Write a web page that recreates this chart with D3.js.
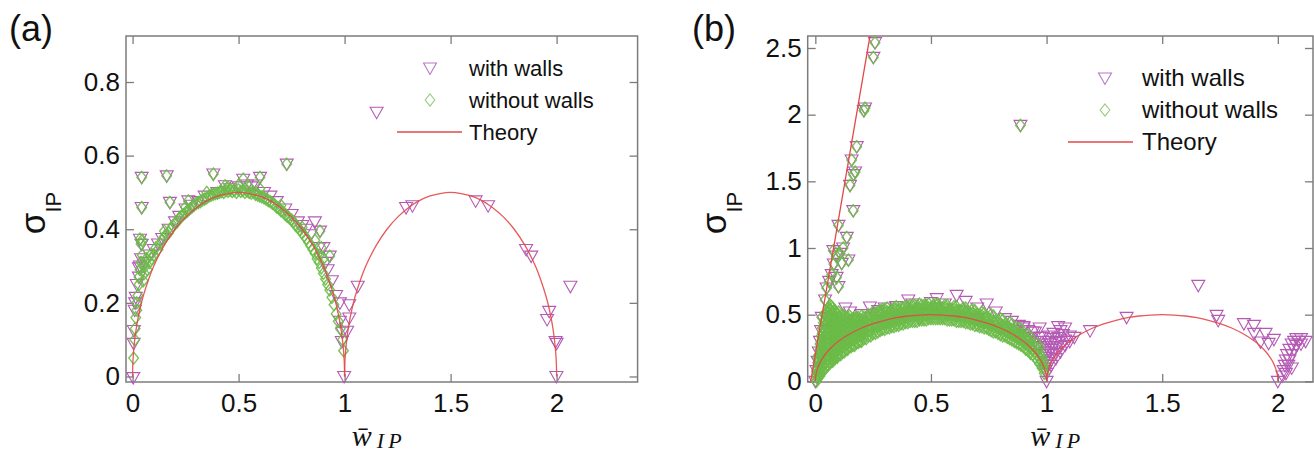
<!DOCTYPE html>
<html>
<head>
<meta charset="utf-8">
<script src="https://cdn.jsdelivr.net/npm/d3@7"></script>
<style>
  body { margin: 0; background: #fff; }
  svg { display: block; }
  text { font-family: "Liberation Sans", Arial, sans-serif; fill: #111; }
</style>
</head>
<body>
<svg id="chart" width="1314" height="455"></svg>
<script>
// ---------- data ----------
// tick values and labels
const xTicks = [0, 0.5, 1, 1.5, 2];
const xTickLabels = ["0", "0.5", "1", "1.5", "2"];
const yTicksA = [0, 0.2, 0.4, 0.6, 0.8];
const yTickLabelsA = ["0", "0.2", "0.4", "0.6", "0.8"];
const yTicksB = [0, 0.5, 1, 1.5, 2, 2.5];
const yTickLabelsB = ["0", "0.5", "1", "1.5", "2", "2.5"];

// theory: two arcs (same shape on [0,1] and [1,2]) and a steep branch in (b)
const theoryW1 = [0,0.001,0.003,0.006,0.01,0.02,0.035,0.05,0.075,0.1,0.15,0.2,0.25,0.3,0.35,0.4,0.45,0.5,0.55,0.6,0.65,0.7,0.75,0.8,0.85,0.9,0.925,0.95,0.965,0.98,0.99,0.994,0.997,0.999,1];
const theoryW2 = [1,1.001,1.003,1.006,1.01,1.02,1.035,1.05,1.075,1.1,1.15,1.2,1.25,1.3,1.35,1.4,1.45,1.5,1.55,1.6,1.65,1.7,1.75,1.8,1.85,1.9,1.925,1.95,1.965,1.98,1.99,1.994,1.997,1.999,2];
const theoryS = [0,0.032,0.055,0.077,0.099,0.14,0.184,0.218,0.263,0.3,0.357,0.4,0.433,0.458,0.477,0.49,0.497,0.5,0.497,0.49,0.477,0.458,0.433,0.4,0.357,0.3,0.263,0.218,0.184,0.14,0.099,0.077,0.055,0.032,0];
const steepW = [-0.02, 0.26];
const steepS = [0, 2.83];

// panel (a): without walls
const noWallsA = [
  [0.005,0.05],[0.01,0.1],[0.012,0.13],[0.015,0.16],[0.02,0.18],[0.02,0.2],[0.025,0.22],[0.03,0.25],[0.03,0.27],
  [0.035,0.29],[0.04,0.31],[0.045,0.33],[0.05,0.3],[0.05,0.26],[0.055,0.28],[0.06,0.3],[0.065,0.32],[0.07,0.29],
  [0.08,0.31],[0.085,0.33],[0.09,0.32],[0.1,0.33],[0.11,0.35],[0.12,0.345],[0.13,0.36],[0.14,0.37],[0.15,0.38],
  [0.16,0.385],[0.17,0.39],[0.18,0.4],[0.19,0.41],[0.2,0.415],[0.21,0.42],[0.22,0.43],[0.23,0.435],[0.24,0.44],
  [0.25,0.445],[0.26,0.45],[0.27,0.455],[0.28,0.46],[0.29,0.465],[0.3,0.47],[0.31,0.472],[0.32,0.475],[0.33,0.48],
  [0.34,0.482],[0.35,0.485],[0.36,0.49],[0.37,0.492],[0.38,0.495],[0.39,0.497],[0.4,0.498],[0.41,0.5],[0.42,0.502],
  [0.43,0.5],[0.44,0.505],[0.45,0.503],[0.46,0.506],[0.47,0.502],[0.48,0.505],[0.49,0.5],[0.5,0.507],[0.51,0.503],
  [0.52,0.505],[0.53,0.5],[0.54,0.504],[0.55,0.5],[0.56,0.498],[0.57,0.5],[0.58,0.495],[0.59,0.493],[0.6,0.49],
  [0.61,0.488],[0.62,0.485],[0.63,0.482],[0.64,0.478],[0.65,0.475],[0.66,0.47],[0.67,0.467],[0.68,0.46],[0.69,0.457],
  [0.7,0.45],[0.71,0.447],[0.72,0.44],[0.73,0.435],[0.74,0.43],[0.75,0.425],[0.76,0.42],[0.77,0.41],[0.78,0.405],
  [0.79,0.398],[0.8,0.39],[0.81,0.382],[0.82,0.375],[0.83,0.365],[0.84,0.355],[0.85,0.345],[0.86,0.335],[0.87,0.32],
  [0.88,0.31],[0.89,0.295],[0.9,0.28],[0.91,0.265],[0.92,0.25],[0.93,0.235],[0.94,0.215],[0.95,0.195],[0.96,0.17],
  [0.97,0.15],[0.98,0.13],[0.99,0.1],[0.995,0.07],
  [0.5,0.52],[0.45,0.515],[0.55,0.515],[0.6,0.51],[0.35,0.5],[0.25,0.46],[0.15,0.395],[0.7,0.465],[0.8,0.405],
  [0.88,0.33],[0.04,0.36],[0.045,0.37],[0.86,0.37],[0.89,0.35],[0.9,0.32],
  [0.043,0.541],[0.161,0.545],[0.381,0.55],[0.727,0.577],[0.043,0.459],[0.176,0.473],[0.522,0.536],[0.601,0.541],
  [0.436,0.518],[0.263,0.477],[0.035,0.373],[0.884,0.395],[0.93,0.327]
];

// panel (a): with walls
const wallsA = [
  [0.003,-0.003],[0.005,0.09],[0.006,0.125],[0.01,0.18],[0.012,0.2],[0.015,0.215],[0.02,0.25],[0.03,0.27],
  [0.035,0.3],[0.04,0.32],[0.03,0.295],[0.035,0.373],[0.043,0.359],[0.043,0.459],[0.043,0.541],[0.06,0.31],
  [0.08,0.33],[0.1,0.345],[0.12,0.36],[0.14,0.375],[0.161,0.545],[0.176,0.473],[0.17,0.4],[0.2,0.42],[0.22,0.435],
  [0.25,0.455],[0.263,0.477],[0.28,0.465],[0.31,0.475],[0.34,0.49],[0.381,0.55],[0.4,0.5],[0.436,0.518],[0.46,0.51],
  [0.5,0.515],[0.522,0.536],[0.54,0.52],[0.56,0.515],[0.58,0.52],[0.601,0.541],[0.62,0.5],[0.65,0.49],[0.68,0.475],
  [0.727,0.577],[0.72,0.455],[0.75,0.44],[0.78,0.42],[0.8,0.41],[0.82,0.4],[0.86,0.42],[0.884,0.395],[0.9,0.35],
  [0.93,0.327],[0.84,0.385],[0.88,0.35],[0.91,0.31],[0.92,0.29],[0.94,0.26],[0.96,0.22],[0.978,0.2],[0.978,0.15],
  [0.987,0.095],[0.99,0.12],[0.998,0.0],[1.012,0.123],[1.022,0.159],[1.022,0.195],[1.062,0.245],
  [1.151,0.718],[1.29,0.459],[1.32,0.464],[1.618,0.477],[1.677,0.464],[1.856,0.345],[1.88,0.327],[1.955,0.155],
  [1.965,0.177],[1.995,0.095],[2.0,0.09],[1.999,0.0],[2.065,0.245]
];

// panel (b): without walls — dense columns (w, list of sigma) plus scattered points
const noWallsColumnsB = [
  [0.005,[0.0,0.04,0.08]],
  [0.01,[0.02,0.06,0.1,0.14,0.18]],
  [0.015,[0.04,0.08,0.12,0.16,0.2]],
  [0.02,[0.04,0.08,0.12,0.16,0.2,0.24,0.28]],
  [0.025,[0.06,0.1,0.14,0.18,0.22,0.26,0.3,0.34]],
  [0.03,[0.08,0.12,0.16,0.2,0.24,0.28,0.32,0.36,0.4]],
  [0.035,[0.08,0.12,0.16,0.2,0.24,0.28,0.32,0.36,0.4,0.44]],
  [0.04,[0.1,0.14,0.18,0.22,0.26,0.3,0.34,0.38,0.42,0.46,0.5]],
  [0.045,[0.1,0.14,0.18,0.22,0.26,0.3,0.34,0.38,0.42,0.46,0.5]],
  [0.05,[0.12,0.16,0.2,0.24,0.28,0.32,0.36,0.4,0.44,0.48,0.52]],
  [0.055,[0.12,0.16,0.2,0.24,0.28,0.32,0.36,0.4,0.44,0.48,0.52,0.55]],
  [0.06,[0.14,0.18,0.22,0.26,0.3,0.34,0.38,0.42,0.46,0.5,0.54]],
  [0.065,[0.14,0.18,0.22,0.26,0.3,0.34,0.38,0.42,0.46,0.5,0.54,0.57]],
  [0.07,[0.16,0.2,0.24,0.28,0.32,0.36,0.4,0.44,0.48,0.52,0.56]],
  [0.075,[0.15,0.19,0.23,0.27,0.31,0.35,0.39,0.43,0.47,0.51,0.55]],
  [0.08,[0.17,0.21,0.25,0.29,0.33,0.37,0.41,0.45,0.49,0.53]],
  [0.085,[0.17,0.21,0.25,0.29,0.33,0.37,0.41,0.45,0.49,0.53]],
  [0.09,[0.19,0.23,0.27,0.31,0.35,0.39,0.43,0.47,0.51]],
  [0.095,[0.18,0.22,0.26,0.3,0.34,0.38,0.42,0.46,0.5]],
  [0.1,[0.2,0.24,0.28,0.32,0.36,0.4,0.44,0.48,0.52]],
  [0.11,[0.2,0.24,0.28,0.32,0.36,0.4,0.44,0.48]],
  [0.118,[0.22,0.26,0.3,0.34,0.38,0.42,0.46,0.5]],
  [0.125,[0.22,0.26,0.3,0.34,0.38,0.42,0.46,0.49]],
  [0.133,[0.24,0.28,0.32,0.36,0.4,0.44,0.48]],
  [0.14,[0.24,0.28,0.32,0.36,0.4,0.44,0.48]],
  [0.148,[0.26,0.3,0.34,0.38,0.42,0.46,0.49]],
  [0.155,[0.26,0.3,0.34,0.38,0.42,0.46]],
  [0.163,[0.27,0.31,0.35,0.39,0.43,0.47]],
  [0.17,[0.27,0.31,0.35,0.39,0.43,0.47]],
  [0.178,[0.29,0.33,0.37,0.41,0.45,0.48]],
  [0.185,[0.29,0.33,0.37,0.41,0.45,0.48]],
  [0.193,[0.3,0.34,0.38,0.42,0.46]],
  [0.2,[0.3,0.34,0.38,0.42,0.46,0.49]],
  [0.21,[0.32,0.36,0.4,0.44,0.48]],
  [0.22,[0.32,0.36,0.4,0.44,0.48]],
  [0.23,[0.34,0.38,0.42,0.46,0.5]],
  [0.24,[0.34,0.38,0.42,0.46,0.5]],
  [0.25,[0.36,0.4,0.44,0.48,0.52]],
  [0.26,[0.36,0.4,0.44,0.48,0.51]],
  [0.27,[0.37,0.41,0.45,0.49,0.52]],
  [0.28,[0.38,0.42,0.46,0.5,0.53]],
  [0.29,[0.39,0.43,0.47,0.51,0.54]],
  [0.3,[0.39,0.43,0.47,0.51,0.54]],
  [0.31,[0.4,0.44,0.48,0.52,0.55]],
  [0.32,[0.4,0.44,0.48,0.52]],
  [0.33,[0.41,0.45,0.49,0.53]],
  [0.34,[0.41,0.45,0.49,0.53,0.55]],
  [0.35,[0.42,0.46,0.5,0.54,0.56]],
  [0.36,[0.42,0.46,0.5,0.54]],
  [0.37,[0.43,0.47,0.51,0.55]],
  [0.38,[0.43,0.47,0.51,0.55]],
  [0.39,[0.44,0.48,0.52,0.56]],
  [0.4,[0.44,0.48,0.52,0.56]],
  [0.41,[0.45,0.49,0.53,0.57]],
  [0.42,[0.45,0.49,0.53,0.57]],
  [0.43,[0.45,0.49,0.53,0.57]],
  [0.44,[0.45,0.49,0.53,0.56]],
  [0.45,[0.46,0.5,0.54,0.58]],
  [0.46,[0.46,0.5,0.54,0.57]],
  [0.47,[0.46,0.5,0.54,0.57]],
  [0.48,[0.46,0.5,0.54,0.57]],
  [0.49,[0.47,0.51,0.55,0.58]],
  [0.5,[0.47,0.51,0.55]],
  [0.51,[0.47,0.51,0.55,0.57]],
  [0.52,[0.47,0.51,0.55,0.58]],
  [0.53,[0.47,0.51,0.55,0.58]],
  [0.54,[0.47,0.51,0.55]],
  [0.55,[0.47,0.51,0.55]],
  [0.56,[0.47,0.51,0.55,0.57]],
  [0.57,[0.46,0.5,0.54,0.57]],
  [0.58,[0.46,0.5,0.54]],
  [0.59,[0.46,0.5,0.54]],
  [0.6,[0.46,0.5,0.54,0.56]],
  [0.61,[0.45,0.49,0.53,0.56]],
  [0.62,[0.45,0.49,0.53]],
  [0.63,[0.45,0.49,0.53]],
  [0.64,[0.45,0.49,0.53,0.55]],
  [0.65,[0.44,0.48,0.52,0.55]],
  [0.66,[0.44,0.48,0.52]],
  [0.67,[0.43,0.47,0.51]],
  [0.68,[0.43,0.47,0.51,0.54]],
  [0.69,[0.42,0.46,0.5,0.53]],
  [0.7,[0.42,0.46,0.5]],
  [0.71,[0.41,0.45,0.49]],
  [0.72,[0.41,0.45,0.49,0.52]],
  [0.73,[0.4,0.44,0.48,0.51]],
  [0.74,[0.4,0.44,0.48]],
  [0.75,[0.39,0.43,0.47]],
  [0.76,[0.38,0.42,0.46,0.5]],
  [0.77,[0.37,0.41,0.45,0.49]],
  [0.78,[0.37,0.41,0.45]],
  [0.79,[0.36,0.4,0.44]],
  [0.8,[0.35,0.39,0.43,0.47]],
  [0.81,[0.34,0.38,0.42,0.46]],
  [0.82,[0.34,0.38,0.42]],
  [0.83,[0.33,0.37,0.41]],
  [0.84,[0.32,0.36,0.4,0.44]],
  [0.85,[0.31,0.35,0.39,0.43]],
  [0.86,[0.3,0.34,0.38]],
  [0.87,[0.29,0.33,0.37]],
  [0.88,[0.28,0.32,0.36,0.4]],
  [0.89,[0.27,0.31,0.35,0.39]],
  [0.9,[0.26,0.3,0.34]],
  [0.91,[0.24,0.28,0.32]],
  [0.92,[0.23,0.27,0.31,0.35]],
  [0.93,[0.21,0.25,0.29,0.33]],
  [0.94,[0.2,0.24,0.28]],
  [0.95,[0.18,0.22,0.26]],
  [0.96,[0.16,0.2,0.24,0.28]],
  [0.97,[0.13,0.17,0.21,0.25]],
  [0.98,[0.1,0.14,0.18]],
  [0.99,[0.06,0.1,0.14]]
];
const noWallsExtraB = [
  [0.028,0.48],[0.042,0.61],[0.049,0.7],[0.06,0.75],[0.071,0.8],[0.092,0.78],[0.1,0.71],[0.078,0.98],
  [0.08,0.88],[0.09,0.94],[0.107,0.96],[0.114,0.885],[0.143,0.91],[0.12,1.0],[0.136,1.08],[0.1,1.17],
  [0.164,1.28],[0.15,1.47],[0.165,1.55],[0.172,1.57],[0.157,1.66],[0.179,1.76],[0.21,2.03],[0.215,2.05],
  [0.251,2.43],[0.258,2.54],[0.887,1.92]
];

// panel (b): with walls
const wallsB = [
  // steep branch
  [0.0,0.0],[0.005,0.08],[0.01,0.15],[0.015,0.22],[0.02,0.3],[0.025,0.38],
  [0.028,0.48],[0.042,0.61],[0.049,0.7],[0.06,0.75],[0.071,0.8],[0.092,0.78],[0.1,0.71],[0.078,0.98],
  [0.08,0.88],[0.09,0.94],[0.107,0.96],[0.114,0.885],[0.143,0.91],[0.12,1.0],[0.136,1.08],[0.1,1.17],
  [0.164,1.28],[0.15,1.47],[0.165,1.55],[0.172,1.57],[0.157,1.66],[0.179,1.76],[0.21,2.03],[0.215,2.05],
  [0.251,2.43],[0.258,2.54],[0.887,1.92],
  // upper edge of the hump
  [0.13,0.55],[0.15,0.52],[0.2,0.5],[0.236,0.557],[0.272,0.53],[0.3,0.55],[0.35,0.56],[0.402,0.61],[0.42,0.58],
  [0.467,0.51],[0.5,0.59],[0.525,0.62],[0.56,0.58],[0.611,0.645],[0.65,0.6],[0.7,0.55],[0.741,0.58],[0.78,0.52],
  [0.82,0.47],[0.85,0.45],[0.88,0.42],[0.9,0.4],[0.92,0.38],[0.95,0.37],[0.97,0.33],[0.99,0.28],[0.96,0.25],
  [0.98,0.2],[0.89,0.33],[0.93,0.3],[0.55,0.49],[0.45,0.47],[0.62,0.52],[0.7,0.47],
  [0.86,0.38],[0.88,0.35],[0.9,0.41],[0.92,0.33],[0.94,0.37],[0.95,0.3],[0.97,0.4],[0.97,0.26],[0.98,0.33],
  [0.99,0.22],[0.99,0.15],[0.995,0.08],
  // cluster just above w = 1
  [1.0,0.0],[1.0,0.06],[1.0,0.1],[1.0,0.14],[1.0,0.18],[1.0,0.22],[1.0,0.26],[1.01,0.3],[1.01,0.34],[1.02,0.12],
  [1.02,0.16],[1.02,0.2],[1.02,0.24],[1.02,0.28],[1.03,0.32],[1.03,0.36],[1.04,0.17],[1.04,0.21],[1.04,0.25],
  [1.04,0.29],[1.05,0.33],[1.06,0.22],[1.06,0.26],[1.06,0.3],[1.07,0.35],[1.08,0.27],[1.08,0.31],[1.1,0.3],
  [1.1,0.34],[1.12,0.33],[1.06,0.38],[1.08,0.4],[1.05,0.41],
  // second arc
  [1.188,0.38],[1.346,0.48],[1.656,0.72],[1.735,0.495],[1.742,0.457],[1.853,0.433],[1.897,0.42],[1.897,0.36],
  [1.947,0.36],[1.925,0.295],[1.983,0.315],[1.96,0.285],[2.0,0.0],
  // cluster just above w = 2
  [2.02,0.04],[2.025,0.08],[2.03,0.12],[2.035,0.16],[2.04,0.2],[2.05,0.24],[2.06,0.28],[2.07,0.3],[2.08,0.32],
  [2.1,0.32],[2.045,0.12],[2.05,0.16],[2.06,0.2],[2.07,0.24],[2.08,0.27],[2.09,0.3],[2.1,0.28],[2.06,0.1],
  [2.035,0.06],[2.12,0.3]
];

const seriesNames = ["with walls", "without walls", "Theory"];

// ---------- styles ----------
const COL_WALLS = "#b45ab4";
const COL_NOWALLS = "#6cbb48";
const COL_THEORY = "#e34848";
const COL_FRAME = "#7c7c7c";
const triPath = "M-6.5,-5L6.5,-5L0,6.5Z";
const diaPath = "M0,-6L4.8,0L0,6L-4.8,0Z";

const svg = d3.select("#chart");
svg.append("rect").attr("width", 1314).attr("height", 455).attr("fill", "#fff");

function drawPanel(cfg) {
  const { x, y, yTicks, yLabels, tag, walls, noWalls, steep, legend, fs, clipId } = cfg;
  const [x0, x1] = x.range();
  const [y1, y0] = y.range();
  const g = svg.append("g");

  g.append("clipPath").attr("id", clipId)
    .append("rect").attr("x", x0).attr("y", y0).attr("width", x1 - x0).attr("height", y1 - y0);

  // frame
  g.append("rect").attr("x", x0).attr("y", y0).attr("width", x1 - x0).attr("height", y1 - y0)
    .attr("fill", "none").attr("stroke", COL_FRAME).attr("stroke-width", 1.5);

  const styleAxis = (sel) => {
    sel.select(".domain").remove();
    sel.selectAll(".tick line").attr("stroke", COL_FRAME).attr("stroke-width", 1.3);
    sel.selectAll(".tick text").attr("fill", "#111")
      .style("font-family", '"Liberation Sans", Arial, sans-serif');
  };

  g.append("g").attr("transform", `translate(0,${y1})`)
    .call(d3.axisBottom(x).tickValues(xTicks).tickFormat((d, i) => xTickLabels[i]).tickSize(-8).tickSizeOuter(0).tickPadding(12))
    .call(styleAxis).selectAll(".tick text").style("font-size", fs.x + "px");
  g.append("g").attr("transform", `translate(0,${y0})`)
    .call(d3.axisTop(x).tickValues(xTicks).tickFormat("").tickSize(-8).tickSizeOuter(0))
    .call(styleAxis);
  g.append("g").attr("transform", `translate(${x0},0)`)
    .call(d3.axisLeft(y).tickValues(yTicks).tickFormat((d, i) => yLabels[i]).tickSize(-8).tickSizeOuter(0).tickPadding(6))
    .call(styleAxis).selectAll(".tick text").style("font-size", fs.y + "px");
  g.append("g").attr("transform", `translate(${x1},0)`)
    .call(d3.axisRight(y).tickValues(yTicks).tickFormat("").tickSize(-8).tickSizeOuter(0))
    .call(styleAxis);

  // markers: with walls (triangles), then without walls (diamonds)
  g.append("g").selectAll("path").data(walls).join("path")
    .attr("d", triPath).attr("transform", d => `translate(${x(d[0])},${y(d[1])})`)
    .attr("fill", "none").attr("stroke", COL_WALLS).attr("stroke-width", 1.1);
  g.append("g").selectAll("path").data(noWalls).join("path")
    .attr("d", diaPath).attr("transform", d => `translate(${x(d[0])},${y(d[1])})`)
    .attr("fill", "none").attr("stroke", COL_NOWALLS).attr("stroke-width", 1.4).attr("stroke-opacity", 0.9);

  // theory curves
  const line = d3.line().x(d => x(d[0])).y(d => y(d[1])).curve(d3.curveCatmullRom);
  const tg = g.append("g").attr("clip-path", `url(#${clipId})`);
  [theoryW1, theoryW2].forEach(ws => {
    tg.append("path").datum(ws.map((w, i) => [w, theoryS[i]]))
      .attr("d", line).attr("fill", "none").attr("stroke", COL_THEORY).attr("stroke-width", 1.3).attr("stroke-opacity", 0.9);
  });
  if (steep) {
    tg.append("path").datum(steepW.map((w, i) => [w, steepS[i]]))
      .attr("d", d3.line().x(d => x(d[0])).y(d => y(d[1])))
      .attr("fill", "none").attr("stroke", COL_THEORY).attr("stroke-width", 1.3);
  }

  // legend
  const lg = g.append("g").style("font-size", legend.fs + "px");
  lg.append("path").attr("d", triPath).attr("transform", `translate(${legend.mx},${legend.y0})`)
    .attr("fill", "none").attr("stroke", "#b57ac8").attr("stroke-width", 1.1);
  lg.append("path").attr("d", diaPath).attr("transform", `translate(${legend.mx},${legend.y0 + legend.dy})`)
    .attr("fill", "none").attr("stroke", "#93cc7a").attr("stroke-width", 1.1);
  lg.append("line").attr("x1", legend.lx0).attr("x2", legend.lx1)
    .attr("y1", legend.y0 + 2 * legend.dy).attr("y2", legend.y0 + 2 * legend.dy)
    .attr("stroke", COL_THEORY).attr("stroke-width", 1.3);
  seriesNames.forEach((s, i) => {
    lg.append("text").attr("x", legend.tx).attr("y", legend.y0 + i * legend.dy)
      .attr("dy", "0.35em").text(s);
  });

  // panel tag
  g.append("text").attr("x", tag.x).attr("y", 41).style("font-size", "36px").text(tag.t);

  // y label: sigma with subscript IP
  const yl = g.append("text").attr("transform", `translate(${cfg.ylab.x},${cfg.ylab.y}) rotate(-90)`)
    .attr("text-anchor", "middle");
  yl.append("tspan").style("font-size", "35px").text("σ");
  yl.append("tspan").style("font-size", "22px").attr("dy", 16).text("IP");

  // x label: w-bar with subscript IP
  const xm = (x0 + x1) / 2;
  const xl = g.append("text").attr("x", xm - 30).attr("y", 446)
    .style("font-family", '"Liberation Serif", "DejaVu Serif", serif').style("font-style", "italic");
  xl.append("tspan").style("font-size", "30px").text("w\u0304");
  xl.append("tspan").style("font-size", "22px").attr("dx", 5).attr("dy", 2)
    .style("letter-spacing", "4px").text("IP");
}

const noWallsB = noWallsColumnsB.flatMap(([w, ss]) => ss.map(s => [w, s])).concat(noWallsExtraB);

drawPanel({
  x: d3.scaleLinear().domain([-0.031, 2.382]).range([126, 637.6]),
  y: d3.scaleLinear().domain([-0.015, 0.925]).range([382, 36]),
  yTicks: yTicksA, yLabels: yTickLabelsA,
  tag: { x: 9, t: "(a)" },
  walls: wallsA, noWalls: noWallsA, steep: false,
  legend: { mx: 430, tx: 469, y0: 68, dy: 32, lx0: 397, lx1: 462, fs: 22 },
  fs: { x: 26, y: 26 },
  ylab: { x: 45, y: 213 },
  clipId: "clipA"
});

drawPanel({
  x: d3.scaleLinear().domain([-0.033, 2.152]).range([807.7, 1313]),
  y: d3.scaleLinear().domain([-0.005, 2.59]).range([382, 36]),
  yTicks: yTicksB, yLabels: yTickLabelsB,
  tag: { x: 692, t: "(b)" },
  walls: wallsB, noWalls: noWallsB, steep: true,
  legend: { mx: 1105, tx: 1142, y0: 78, dy: 32, lx0: 1068, lx1: 1133, fs: 24 },
  fs: { x: 26, y: 26 },
  ylab: { x: 726, y: 213 },
  clipId: "clipB"
});
</script>
</body>
</html>
